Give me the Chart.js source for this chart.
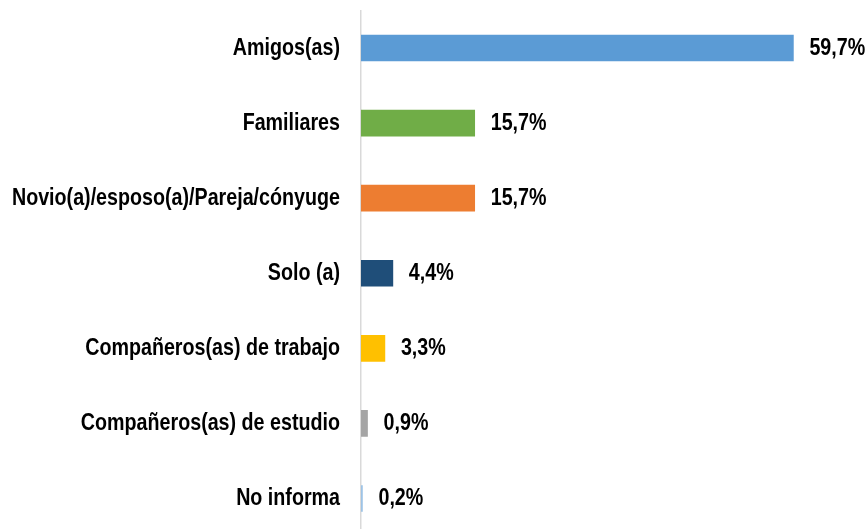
<!DOCTYPE html>
<html>
<head>
<meta charset="utf-8">
<script src="https://cdn.jsdelivr.net/npm/chart.js@4"></script>
<style>
  html, body { margin: 0; padding: 0; background: #fff; overflow: hidden; }
  #wrap { width: 868px; height: 536px; position: relative; }
</style>
</head>
<body>
<div id="wrap"><canvas id="chart"></canvas></div>
<script>
// Data
const categories = [
    "Amigos(as)",
    "Familiares",
    "Novio(a)/esposo(a)/Pareja/cónyuge",
    "Solo (a)",
    "Compañeros(as) de trabajo",
    "Compañeros(as) de estudio",
    "No informa"
];
const percentages = [59.7, 15.7, 15.7, 4.4, 3.3, 0.9, 0.2];
const barColors = ["#5B9BD5", "#70AD47", "#ED7D31", "#1F4E79", "#FFC000", "#A5A5A5", "#9DC3E6"];

// no narrow font installed, so squeeze Liberation Sans Bold horizontally
const labelFont = "bold 24px 'Liberation Sans', Arial, sans-serif";
const squeeze = 0.82;

function narrowText(ctx, txt, x, y, align) {
    ctx.save();
    ctx.translate(x, y);
    ctx.scale(squeeze, 1);
    ctx.textAlign = align;
    ctx.fillText(txt, 0, 0);
    ctx.restore();
}

// category names on the left and "59,7%" style labels after each bar
const textLabels = {
    id: 'textLabels',
    afterDatasetsDraw(chart) {
        const ctx = chart.ctx;
        const meta = chart.getDatasetMeta(0);
        ctx.save();
        ctx.font = labelFont;
        ctx.fillStyle = "#000";
        ctx.textBaseline = "middle";
        meta.data.forEach((bar, i) => {
            narrowText(ctx, categories[i], chart.chartArea.left - 21, bar.y, 'right');
            let txt = percentages[i].toFixed(1).replace('.', ',') + '%';
            narrowText(ctx, txt, bar.x + 16, bar.y, 'left');
        });
        ctx.restore();
    }
};

new Chart(document.getElementById('chart'), {
    type: 'bar',
    data: {
        labels: categories,
        datasets: [{
            data: percentages,
            backgroundColor: barColors,
            barThickness: 26
        }]
    },
    options: {
        indexAxis: 'y',
        responsive: true,
        maintainAspectRatio: false,
        animation: false,
        layout: { padding: { top: 10.5, right: 0, bottom: 0, left: 0 } },
        plugins: {
            legend: { display: false },
            tooltip: { enabled: false }
        },
        scales: {
            x: {
                display: false,
                min: 0,
                max: 70
            },
            y: {
                afterFit: s => { s.width = 361; },
                grid: { display: false, drawTicks: false },
                border: { display: true, color: '#D9D9D9', width: 1.5 },
                ticks: { display: false }
            }
        }
    },
    plugins: [textLabels]
});
</script>
</body>
</html>
